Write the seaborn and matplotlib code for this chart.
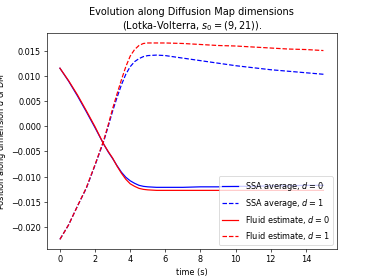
import pandas as pd
import matplotlib
matplotlib.use("Agg")
import matplotlib.pyplot as plt
import seaborn as sns

time = [0, 0.5, 1, 1.5, 2, 2.5, 2.75, 3, 3.25, 3.5, 3.75, 4, 4.25, 4.5, 4.75,
        5, 5.5, 6, 7, 8, 9, 10, 11, 12, 13, 14, 15]

ssa_d0 = [0.0115, 0.0089, 0.0060, 0.0029, -0.0003, -0.0036, -0.0051, -0.0064,
          -0.0078, -0.0091, -0.0101, -0.0108, -0.0113, -0.0117, -0.0119,
          -0.0120, -0.0121, -0.0121, -0.0121, -0.0120, -0.0120, -0.0119,
          -0.0119, -0.0118, -0.0118, -0.0117, -0.0117]
ssa_d1 = [-0.0224, -0.0195, -0.0158, -0.0123, -0.0077, -0.0029, 0.0000, 0.0030,
          0.0057, 0.0082, 0.0103, 0.0118, 0.0128, 0.0134, 0.0138,
          0.0140, 0.0141, 0.0140, 0.0135, 0.0130, 0.0125, 0.0120,
          0.0116, 0.0112, 0.0109, 0.0106, 0.0103]
fluid_d0 = [0.0115, 0.0090, 0.0062, 0.0031, -0.0001, -0.0036, -0.0050, -0.0063,
            -0.0079, -0.0093, -0.0105, -0.0114, -0.0119, -0.0123, -0.0125,
            -0.0126, -0.0127, -0.0127, -0.0127, -0.0127, -0.0127, -0.0127,
            -0.0127, -0.0127, -0.0127, -0.0127, -0.0127]
fluid_d1 = [-0.0224, -0.0195, -0.0158, -0.0122, -0.0076, -0.0027, 0.0003, 0.0035,
            0.0064, 0.0092, 0.0118, 0.0139, 0.0152, 0.0160, 0.0164,
            0.0165, 0.0165, 0.0165, 0.0164, 0.0162, 0.0160, 0.0159,
            0.0157, 0.0155, 0.0153, 0.0152, 0.0150]

series = [
    ("SSA average, $d=0$", ssa_d0, "b", "-"),
    ("SSA average, $d=1$", ssa_d1, "b", "--"),
    ("Fluid estimate, $d=0$", fluid_d0, "r", "-"),
    ("Fluid estimate, $d=1$", fluid_d1, "r", "--"),
]

fig, ax = plt.subplots(figsize=(6.4, 4.8))
for label, values, color, ls in series:
    df = pd.DataFrame({"time": time, "position": values})
    sns.lineplot(data=df, x="time", y="position", ax=ax, color=color,
                 linestyle=ls, label=label, linewidth=1.5)

ax.set_xlabel("time (s)")
ax.set_ylabel("Position along dimension $d$ of DM")
ax.set_title("Evolution along Diffusion Map dimensions\n(Lotka-Volterra, $s_0 = (9, 21)$).")
ax.legend(loc="lower right")

fig.savefig("out.png", dpi=374 / 6.4)
